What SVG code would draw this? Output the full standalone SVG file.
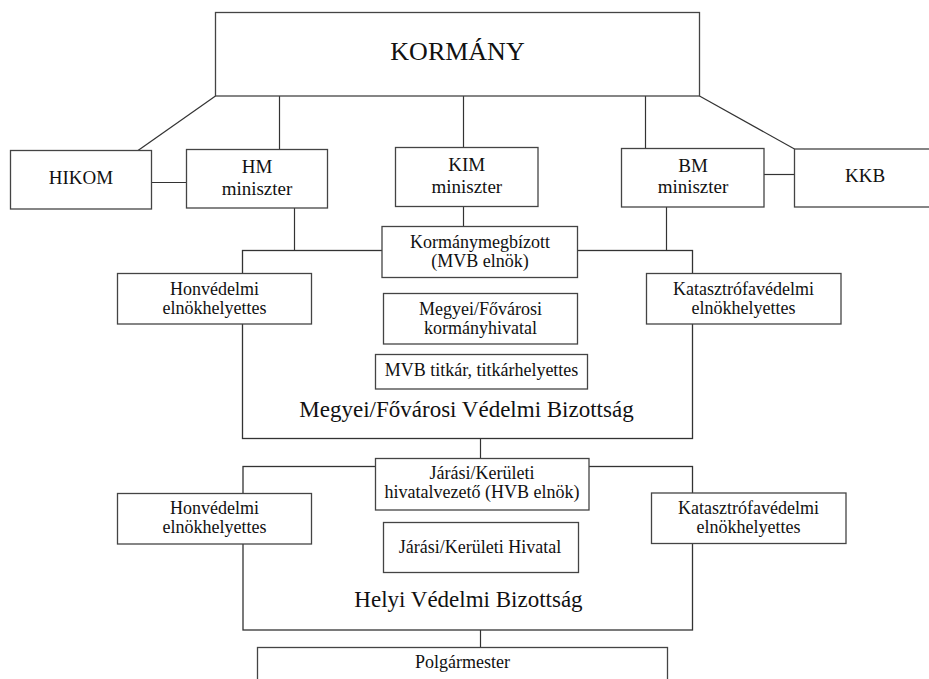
<svg xmlns="http://www.w3.org/2000/svg" width="929" height="679" viewBox="0 0 929 679">
<style>
.box{fill:#fff;stroke:#444;stroke-width:1.3}
.cont{fill:none;stroke:#333;stroke-width:1.3}
.ln{stroke:#333;stroke-width:1.2;fill:none}
text{font-family:"Liberation Serif","Times New Roman",serif;fill:#111;text-anchor:middle}
.t{font-size:18px}
.m{font-size:19px}
.big{font-size:23px}
</style>
<rect width="929" height="679" fill="#fff"/>
<g id="mvb">
<rect class="cont" x="242.5" y="250.5" width="450" height="188"/>
<text class="big" x="466.5" y="417">Megyei/Fővárosi Védelmi Bizottság</text>
</g>
<g id="hvb">
<rect class="cont" x="243" y="466.5" width="449.5" height="163.5"/>
<text class="big" x="468.5" y="606.5">Helyi Védelmi Bizottság</text>
</g>
<g id="connectors">
<line class="ln" x1="215.5" y1="96" x2="138" y2="150.5"/>
<line class="ln" x1="279.5" y1="96" x2="279.5" y2="149.5"/>
<line class="ln" x1="463.5" y1="96" x2="463.5" y2="147.5"/>
<line class="ln" x1="645.5" y1="96" x2="645.5" y2="148.5"/>
<line class="ln" x1="699.5" y1="96" x2="794.5" y2="149"/>
<line class="ln" x1="151.5" y1="182.5" x2="186.5" y2="182.5"/>
<line class="ln" x1="764" y1="174.5" x2="794.5" y2="174.5"/>
<line class="ln" x1="294.5" y1="208" x2="294.5" y2="250.5"/>
<line class="ln" x1="463.5" y1="206.5" x2="463.5" y2="226.5"/>
<line class="ln" x1="666.5" y1="207" x2="666.5" y2="250.5"/>
<line class="ln" x1="480.5" y1="438.5" x2="480.5" y2="458.5"/>
<line class="ln" x1="480.5" y1="630" x2="480.5" y2="647.5"/>
</g>
<g id="kormany">
<rect class="box" x="215.5" y="12.5" width="484" height="83.5"/>
<text x="457.5" y="59.5" font-size="26">KORMÁNY</text>
</g>
<g id="hikom">
<rect class="box" x="10.5" y="150.5" width="141" height="58.5"/>
<text class="m" x="81" y="183.5">HIKOM</text>
</g>
<g id="hm">
<rect class="box" x="186.5" y="149.5" width="141" height="58.5"/>
<text class="m" x="257" y="173.3">HM</text>
<text class="m" x="257" y="195">miniszter</text>
</g>
<g id="kim">
<rect class="box" x="395.5" y="147.5" width="142.5" height="59"/>
<text class="m" x="466.8" y="170.7">KIM</text>
<text class="m" x="466.8" y="192.7">miniszter</text>
</g>
<g id="bm">
<rect class="box" x="621.5" y="148.5" width="142.5" height="58.5"/>
<text class="m" x="693" y="171.7">BM</text>
<text class="m" x="693" y="193.3">miniszter</text>
</g>
<g id="kkb">
<rect class="box" x="794.5" y="149" width="145" height="58"/>
<text class="m" x="865" y="181.7">KKB</text>
</g>
<g id="kormanymegbizott">
<rect class="box" x="382" y="226.5" width="195.5" height="51"/>
<text class="t" x="480" y="247.5">Kormánymegbízott</text>
<text class="t" x="480" y="267">(MVB elnök)</text>
</g>
<g id="honvedelmi1">
<rect class="box" x="117.5" y="273.5" width="194" height="50.5"/>
<text class="t" x="214.5" y="294.5">Honvédelmi</text>
<text class="t" x="214.5" y="313.5">elnökhelyettes</text>
</g>
<g id="katasztrofa1">
<rect class="box" x="646.5" y="273.5" width="194.5" height="50.5"/>
<text class="t" x="743.5" y="294.5">Katasztrófavédelmi</text>
<text class="t" x="743.5" y="313.5">elnökhelyettes</text>
</g>
<g id="kormanyhivatal">
<rect class="box" x="383.5" y="293.5" width="194" height="50.5"/>
<text class="t" x="480.5" y="314.5">Megyei/Fővárosi</text>
<text class="t" x="480.5" y="333.5">kormányhivatal</text>
</g>
<g id="mvbtitkar">
<rect class="box" x="375.5" y="354.5" width="212" height="34.5"/>
<text class="t" x="481.5" y="376">MVB titkár, titkárhelyettes</text>
</g>
<g id="hivatalvezeto">
<rect class="box" x="375.5" y="458.5" width="213.5" height="51.5"/>
<text class="t" x="482" y="478.5">Járási/Kerületi</text>
<text class="t" x="482" y="497.5">hivatalvezető (HVB elnök)</text>
</g>
<g id="honvedelmi2">
<rect class="box" x="117.5" y="493.5" width="194" height="50.5"/>
<text class="t" x="214.5" y="514">Honvédelmi</text>
<text class="t" x="214.5" y="533">elnökhelyettes</text>
</g>
<g id="katasztrofa2">
<rect class="box" x="651.5" y="493" width="194.5" height="50.5"/>
<text class="t" x="748.5" y="513.5">Katasztrófavédelmi</text>
<text class="t" x="748.5" y="532.7">elnökhelyettes</text>
</g>
<g id="jarasihivatal">
<rect class="box" x="383.5" y="522.5" width="195" height="50"/>
<text class="t" x="480" y="553">Járási/Kerületi Hivatal</text>
</g>
<g id="polgarmester">
<rect class="box" x="257.5" y="647.5" width="410" height="40"/>
<text class="t" x="462.5" y="667.5">Polgármester</text>
</g>
</svg>
